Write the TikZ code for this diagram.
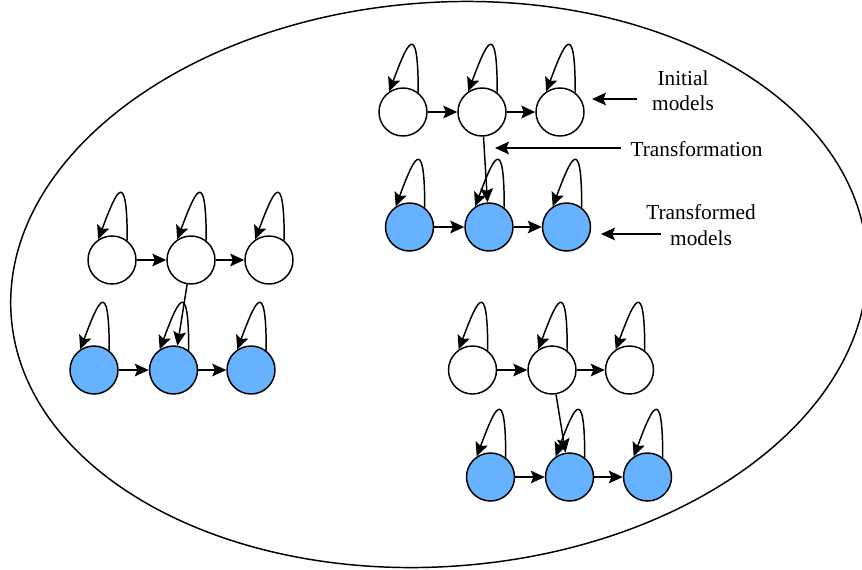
\documentclass[tikz,border=0pt]{standalone}
\usepackage{fontspec}
\setmainfont{Liberation Serif}
\usetikzlibrary{arrows.meta,calc}
\definecolor{stateblue}{RGB}{102,178,255}
\begin{document}
\begin{tikzpicture}[x=0.75pt,y=-0.75pt,
  state/.style={circle,draw=black,line width=1.1pt,minimum size=36pt,inner sep=0pt,fill=white},
  newstate/.style={state,fill=stateblue},
  arr/.style={line width=1.1pt,-{Stealth[length=10.5pt,width=9.5pt,inset=2pt]}},
  lbl/.style={font=\fontsize{16}{19}\selectfont,align=center,inner sep=0pt}]
\useasboundingbox (0,0) rectangle (862,569);
\clip (0,0) rectangle (862,569);

% enclosing ellipse
\draw[line width=1.1pt,rotate around={4.3:(439,284.5)}]
  (439,284.5) ellipse [x radius=429, y radius=282];

% three pairs of model chains: initial (white) and transformed (blue)
\node[state] (a1) at (403,112) {};
\node[state] (a2) at (482,112) {};
\node[state] (a3) at (560,112) {};
\node[newstate] (at1) at (409.5,227) {};
\node[newstate] (at2) at (489,227) {};
\node[newstate] (at3) at (566.5,227) {};

\node[state] (b1) at (112,260) {};
\node[state] (b2) at (191,260) {};
\node[state] (b3) at (269,260) {};
\node[newstate] (bt1) at (94,370) {};
\node[newstate] (bt2) at (173.5,370) {};
\node[newstate] (bt3) at (251,370) {};

\node[state] (c1) at (472.5,370) {};
\node[state] (c2) at (552,370) {};
\node[state] (c3) at (629.5,370) {};
\node[newstate] (ct1) at (490.5,477) {};
\node[newstate] (ct2) at (569.5,477) {};
\node[newstate] (ct3) at (647.5,477) {};

% self loops
\foreach \n in {a1,a2,a3,at1,at2,at3,b1,b2,b3,bt1,bt2,bt3,c1,c2,c3,ct1,ct2,ct3}
  \draw[arr] (\n.52) .. controls +(0,-78) and +(17,-45) .. (\n.124);

% chain transitions and transformation links
\foreach \g in {a,b,c}{
  \draw[arr] (\g1) -- (\g2);
  \draw[arr] (\g2) -- (\g3);
  \draw[arr] (\g t1) -- (\g t2);
  \draw[arr] (\g t2) -- (\g t3);
  \draw[arr] (\g2) -- (\g t2);
}

% annotations
\node[lbl] (lInit) at (683,91) {Initial\\models};
\node[lbl] (lTrans) at (696.5,149) {Transformation};
\node[lbl] (lOut) at (701,225) {Transformed\\models};
\coordinate (tipInit) at (592,99);
\coordinate (tipTrans) at (495,148);
\coordinate (tipOut) at (601,234);
\draw[arr] (lInit.west |- tipInit) ++(-15,0) -- (tipInit);
\draw[arr] (lTrans.west |- tipTrans) ++(-9,0) -- (tipTrans);
\draw[arr] (lOut.west |- tipOut) ++(15,0) -- (tipOut);
\end{tikzpicture}
\end{document}
